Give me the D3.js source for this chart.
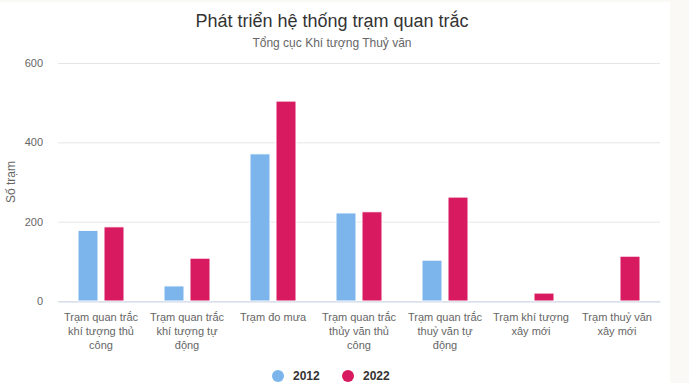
<!DOCTYPE html>
<html>
<head>
<meta charset="utf-8">
<script src="https://cdn.jsdelivr.net/npm/d3@7"></script>
<style>
  body { margin: 0; background: #faf9f5; }
  #chart { position: absolute; left: 0; top: 2px; }
  svg { display: block; background: #fff; font-family: "Liberation Sans", Arial, sans-serif; }
  .grid line { stroke: #e6e6e6; }
  .grid path { display: none; }
</style>
</head>
<body>
<div id="chart"></div>
<script>
// categories and series
var categories = [
  "Trạm quan trắc khí tượng thủ công",
  "Trạm quan trắc khí tượng tự động",
  "Trạm đo mưa",
  "Trạm quan trắc thủy văn thủ công",
  "Trạm quan trắc thuỷ văn tự động",
  "Trạm khí tượng xây mới",
  "Trạm thuỷ văn xây mới"
];
var seriesNames = ["2012", "2022"];
var values2012 = [178, 38, 371, 222, 103, null, null];
var values2022 = [187, 108, 504, 225, 262, 20, 113];
var yTicks = [0, 200, 400, 600];
var colors = ["#7cb5ec", "#d81b60"];

var width = 670, height = 381;
var plotLeft = 58, plotRight = 660, plotTop = 61, plotBottom = 299;

var svg = d3.select("#chart").append("svg")
  .attr("width", width)
  .attr("height", height);

//title
svg.append("text")
  .attr("x", 332).attr("y", 25)
  .attr("text-anchor", "middle")
  .style("font-size", "18px")
  .attr("fill", "#333333")
  .text("Phát triển hệ thống trạm quan trắc");

svg.append("text")
  .attr("x", 332).attr("y", 45)
  .attr("text-anchor", "middle")
  .style("font-size", "12px")
  .attr("fill", "#666666")
  .text("Tổng cục Khí tượng Thuỷ văn");

var x0 = d3.scaleBand()
  .domain(categories)
  .range([plotLeft, plotRight]);

var x1 = d3.scaleBand()
  .domain(seriesNames)
  .range([20, x0.bandwidth() - 20])
  .paddingInner(0.2308);

var y = d3.scaleLinear()
  .domain([0, 600])
  .range([plotBottom, plotTop]);

//grid
svg.append("g")
  .attr("class", "grid")
  .attr("transform", "translate(" + plotLeft + ",0)")
  .call(d3.axisRight(y).tickValues(yTicks).tickSize(plotRight - plotLeft).tickFormat(""));

//y labels
var yAxis = svg.append("g")
  .attr("transform", "translate(" + plotLeft + ",0)")
  .call(d3.axisLeft(y).tickValues(yTicks).tickSize(0).tickPadding(15));
yAxis.select(".domain").remove();
yAxis.selectAll("text")
  .style("font-size", "11px")
  .style("font-family", "Liberation Sans, Arial, sans-serif")
  .attr("fill", "#666666");

svg.append("text")
  .attr("transform", "translate(15," + ((plotTop + plotBottom) / 2) + ") rotate(-90)")
  .attr("text-anchor", "middle")
  .style("font-size", "12px")
  .attr("fill", "#666666")
  .text("Số trạm");

//bars
var rows = categories.map(function(c, i){
  return { cat: c, vals: [values2012[i], values2022[i]] };
});

var groups = svg.selectAll(".group")
  .data(rows)
  .enter()
  .append("g")
  .attr("transform", function(d){ return "translate(" + x0(d.cat) + ",0)"; });

groups.selectAll("rect")
  .data(function(d){
    return d.vals.map(function(v, j){ return { name: seriesNames[j], v: v, j: j }; })
      .filter(function(e){ return e.v != null; });
  })
  .enter()
  .append("rect")
  .attr("x", function(d){ return x1(d.name); })
  .attr("width", x1.bandwidth())
  .attr("y", function(d){ return y(d.v); })
  .attr("height", function(d){ return y(0) - y(d.v); })
  .attr("fill", function(d){ return colors[d.j]; })
  .attr("stroke", "#fff")
  .attr("stroke-width", 1);

//x axis
var xAxis = svg.append("g")
  .attr("transform", "translate(0," + (plotBottom + 0.5) + ")")
  .call(d3.axisBottom(x0).tickSize(0).tickPadding(12));
xAxis.select(".domain").attr("stroke", "#ccd6eb");
xAxis.selectAll("text")
  .style("font-size", "11px")
  .style("font-family", "Liberation Sans, Arial, sans-serif")
  .attr("fill", "#666666")
  .call(wrap, 82);

function wrap(texts, maxW){
  texts.each(function(){
    var text = d3.select(this);
    var words = text.text().split(" ");
    var yy = text.attr("y");
    text.text(null);
    var line = [];
    var n = 0;
    var tspan = text.append("tspan").attr("x", 0).attr("y", yy).attr("dy", "0.71em");
    words.forEach(function(w){
      line.push(w);
      tspan.text(line.join(" "));
      if (tspan.node().getComputedTextLength() > maxW && line.length > 1){
        line.pop();
        tspan.text(line.join(" "));
        line = [w];
        n++;
        tspan = text.append("tspan").attr("x", 0).attr("y", yy)
          .attr("dy", (0.71 + n * 1.27) + "em").text(w);
      }
    });
  });
}

//legend
var legend = svg.selectAll(".legend")
  .data(seriesNames)
  .enter()
  .append("g")
  .attr("transform", function(d, i){ return "translate(" + (278 + i * 70) + ",374)"; });

legend.append("circle")
  .attr("r", 6)
  .attr("fill", function(d, i){ return colors[i]; });

legend.append("text")
  .attr("x", 15)
  .attr("dy", "0.35em")
  .style("font-size", "12px")
  .style("font-weight", "bold")
  .attr("fill", "#333333")
  .text(function(d){ return d; });
</script>
</body>
</html>
